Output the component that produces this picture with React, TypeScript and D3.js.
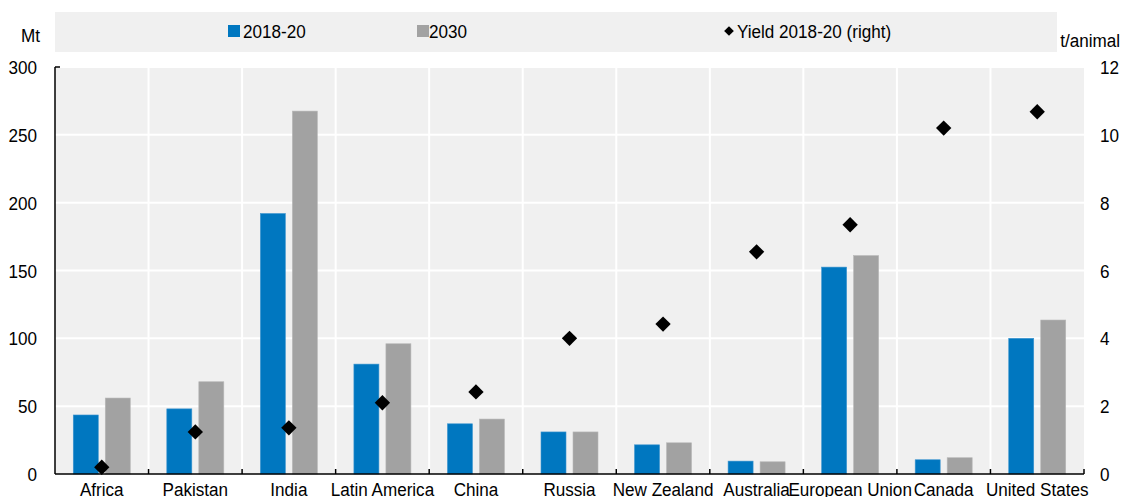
import React from "react";
import * as d3 from "d3";

const categories = ["Africa", "Pakistan", "India", "Latin America", "China", "Russia", "New Zealand", "Australia", "European Union", "Canada", "United States"];
const base2018 = [43.5, 48, 192, 81, 37, 31, 21.5, 9.5, 152.5, 10.5, 100];
const proj2030 = [56, 68, 267.5, 96, 40.5, 31, 23, 9, 161, 12, 113.5];
const yield2018 = [0.2, 1.24, 1.36, 2.1, 2.42, 4.0, 4.42, 6.55, 7.35, 10.2, 10.68];
const leftTicks = [0, 50, 100, 150, 200, 250, 300];
const rightTicks = [0, 2, 4, 6, 8, 10, 12];

const W = 1121, H = 497;
const M = { left: 55, right: 1084, top: 67, bottom: 474 };
const BLUE = "#0077c0";
const GRAY = "#a2a2a2";
const FONT = "'Liberation Sans', Arial, sans-serif";
const SX = 0.9;

function T({ x, y, anchor = "start", size = 19, children }: { x: number; y: number; anchor?: string; size?: number; children: React.ReactNode }) {
  return (
    <text transform={`translate(${x},${y}) scale(${SX},1)`} fontSize={size} textAnchor={anchor as any} fill="#000">
      {children}
    </text>
  );
}

export default function App() {
  const x = d3.scaleBand<string>().domain(categories).range([M.left, M.right]).padding(0);
  const yL = d3.scaleLinear().domain([0, 300]).range([M.bottom, M.top]);
  const yR = d3.scaleLinear().domain([0, 12]).range([M.bottom, M.top]);
  const bw = 25;
  const off = 16;
  const diamond = d3.symbol().type(d3.symbolDiamond2).size(150)() as string;
  const legDiamond = d3.symbol().type(d3.symbolDiamond2).size(60)() as string;

  return (
    <svg width={W} height={H} style={{ position: "absolute", left: 0, top: 0 }} fontFamily={FONT}>
      <rect x={0} y={0} width={W} height={H} fill="#fff" />
      {/* legend */}
      <rect x={55} y={12} width={1002} height={40} fill="#f0f0f0" />
      <rect x={228} y={25} width={12} height={12} fill={BLUE} />
      <T x={243} y={38}>2018-20</T>
      <rect x={417} y={25} width={12} height={12} fill={GRAY} />
      <T x={429} y={38}>2030</T>
      <path d={legDiamond} transform="translate(729,31)" fill="#000" />
      <T x={737} y={38}>Yield 2018-20 (right)</T>
      <T x={40} y={42} anchor="end">Mt</T>
      <T x={1120} y={47} anchor="end">t/animal</T>

      {/* plot background */}
      <rect x={M.left} y={M.top} width={M.right - M.left} height={M.bottom - M.top} fill="#f0f0f0" />
      {leftTicks.slice(1).map((t) => (
        <line key={"h" + t} x1={M.left} x2={M.right} y1={yL(t)} y2={yL(t)} stroke="#fff" strokeWidth={2} />
      ))}
      {categories.slice(1).map((c) => (
        <line key={"v" + c} x1={x(c)!} x2={x(c)!} y1={M.top} y2={M.bottom} stroke="#fff" strokeWidth={2} />
      ))}

      {/* bars */}
      {categories.map((c, i) => {
        const cx = x(c)! + x.bandwidth() / 2;
        return (
          <g key={"b" + c}>
            <rect x={cx - off - bw / 2} y={yL(base2018[i])} width={bw} height={M.bottom - yL(base2018[i])} fill={BLUE} stroke="#3d95cf" strokeWidth={0.6} />
            <rect x={cx + off - bw / 2} y={yL(proj2030[i])} width={bw} height={M.bottom - yL(proj2030[i])} fill={GRAY} stroke="#b8b8b8" strokeWidth={0.6} />
          </g>
        );
      })}

      {/* diamonds */}
      {categories.map((c, i) => {
        const cx = x(c)! + x.bandwidth() / 2;
        return <path key={"d" + c} d={diamond} transform={`translate(${cx},${yR(yield2018[i])})`} fill="#000" />;
      })}

      {/* axes */}
      <line x1={M.left} x2={M.left} y1={M.top} y2={M.bottom} stroke="#000" strokeWidth={1.5} />
      <line x1={M.left} x2={M.left + 5} y1={M.top} y2={M.top} stroke="#000" strokeWidth={1.5} />
      <line x1={M.left} x2={M.right} y1={M.bottom} y2={M.bottom} stroke="#000" strokeWidth={1.5} />
      {categories.slice(1).map((c) => (
        <line key={"t" + c} x1={x(c)!} x2={x(c)!} y1={M.bottom} y2={M.bottom - 5} stroke="#000" strokeWidth={1.5} />
      ))}
      <line x1={M.right} x2={M.right} y1={M.bottom} y2={M.bottom - 5} stroke="#000" strokeWidth={1.5} />

      {leftTicks.map((t) => (
        <T key={"l" + t} x={37} y={yL(t) + 7} anchor="end">{t}</T>
      ))}
      {rightTicks.map((t) => (
        <T key={"r" + t} x={1100} y={yR(t) + 7}>{t}</T>
      ))}
      {categories.map((c) => (
        <T key={"c" + c} x={x(c)! + x.bandwidth() / 2} y={496} anchor="middle">{c}</T>
      ))}
    </svg>
  );
}
